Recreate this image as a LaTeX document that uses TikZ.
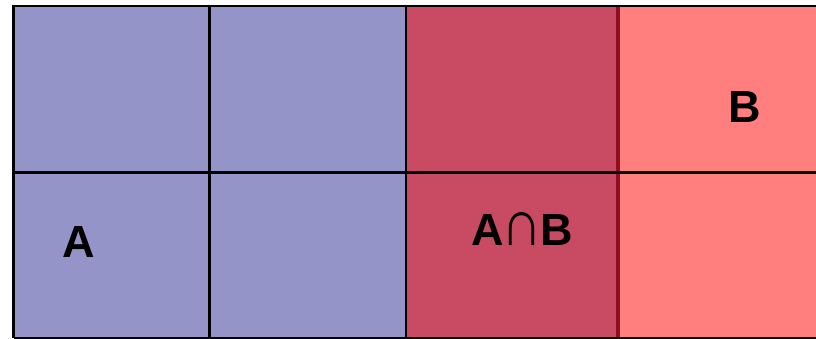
\documentclass[tikz,border=0pt]{standalone}
\usepackage{fontspec}
\setmainfont{Liberation Sans}
\usepackage{tikz}
\usetikzlibrary{positioning}
\definecolor{setA}{HTML}{9494C8}
\definecolor{setAB}{HTML}{C94A63}
\definecolor{setB}{HTML}{FF7F7F}
\definecolor{edgeB}{HTML}{8E0E22}
\newcommand{\capsign}{\hspace{-2pt}\resizebox{41pt}{33pt}{∩}\hspace{-2pt}}

\begin{document}
\begin{tikzpicture}[x=1pt,y=1pt,
  cellA/.style={fill=setA},
  cellAB/.style={fill=setAB},
  cellB/.style={fill=setB},
  grid/.style={draw=black,line width=2.6pt},
  border/.style={draw=edgeB,line width=3.2pt},
  lbl/.style={font=\fontsize{45}{45}\selectfont\bfseries,anchor=base,inner sep=0pt}]

  \useasboundingbox (0,0) rectangle (816,339);
  \clip (0,0) rectangle (816,339);

  % region fills
  \fill[cellA]  (13.5,0) rectangle (406,333);
  \fill[cellAB] (406,0) rectangle (618,333);
  \fill[cellB]  (618,0) rectangle (840,333);

  % grid
  \draw[grid] (209.7,0) -- (209.7,333);
  \draw[grid] (406,0) -- (406,333);
  \draw[border] (618,0) -- (618,333);
  \draw[grid] (13.5,166.2) -- (840,166.2);
  \draw[grid] (13.5,0.5) -- (13.5,333) -- (840,333);
  \draw[grid] (13.5,0.5) -- (840,0.5);

  % labels
  \node[lbl] (a)  at (78.5,81)  {A};
  \node[lbl] (ab) at (522,93)   {A\capsign B};
  \node[lbl] (b)  at (745,216)  {B};
\end{tikzpicture}
\end{document}
